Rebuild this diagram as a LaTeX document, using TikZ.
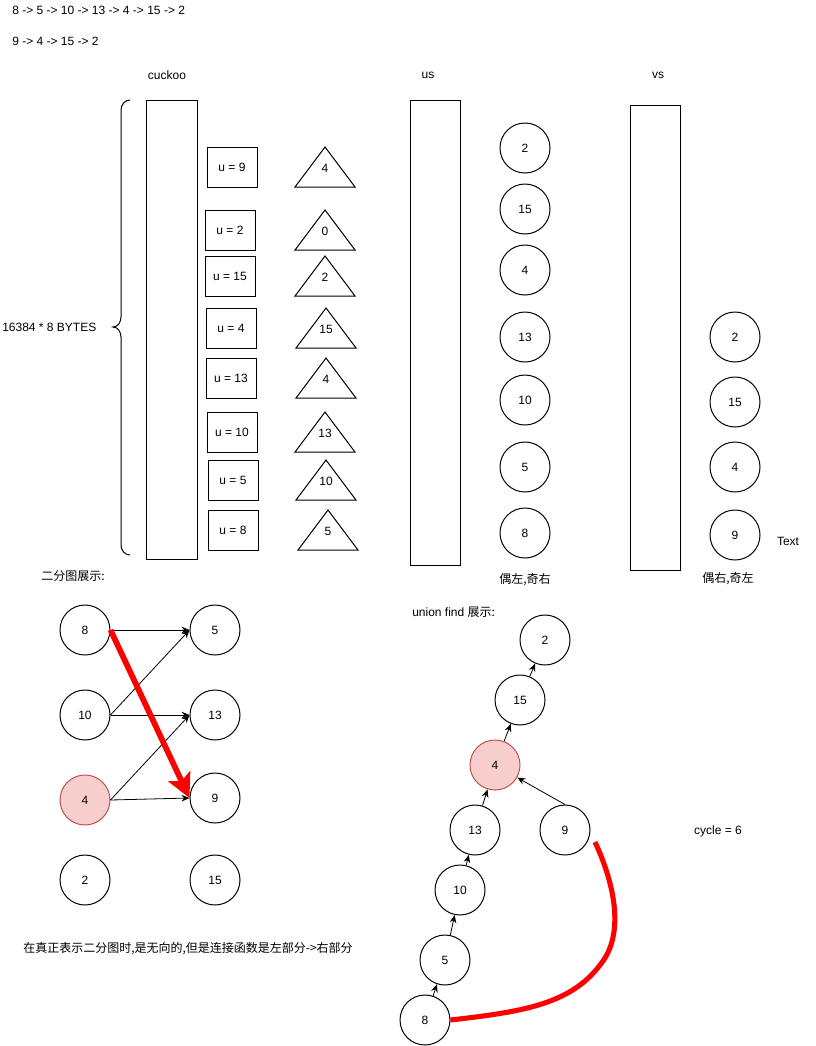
\documentclass[tikz,border=0pt]{standalone}
\usepackage{fontspec}
\setmainfont{Liberation Sans}
\newfontfamily\cjk{Noto Sans CJK SC}
\usetikzlibrary{arrows.meta}
\definecolor{pinkfill}{HTML}{F8CECC}
\definecolor{pinkline}{HTML}{B85450}
\begin{document}
\begin{tikzpicture}[x=0.75pt,y=-0.75pt,
  every node/.style={font=\fontsize{9}{11}\selectfont,inner sep=0pt},
  txt/.style={},
  circ/.style={circle,draw,line width=0.75pt,minimum size=37.5pt},
  hot/.style={circ,fill=pinkfill,draw=pinkline},
  ubox/.style={draw,line width=0.75pt,minimum width=37.5pt,minimum height=30pt},
  tall/.style={draw,line width=0.75pt},
  arr/.style={-{Stealth[length=6pt,width=5pt]},line width=0.6pt},
  redarr/.style={-{Stealth[length=18pt,width=18pt,inset=4pt]},line width=4.3pt,red},
  redline/.style={line width=3.8pt,red}]
\useasboundingbox (0,0) rectangle (816,1046);
% top texts
\node[txt,anchor=west] (seq1) at (12,10) {8 -> 5 -> 10 -> 13 -> 4 -> 15 -> 2};
\node[txt,anchor=west] (seq2) at (12,41) {9 -> 4 -> 15 -> 2};
\node[txt] (tcuckoo) at (167,75) {cuckoo};
\node[txt] (tus) at (428,75) {us};
\node[txt] (tvs) at (658,75) {vs};
% brace
\draw[line width=0.75pt] (130,100) to[out=180,in=90] (121,110) -- (121,317)
  to[out=-90,in=0] (113,327) to[out=0,in=90] (121,337) -- (121,545)
  to[out=-90,in=180] (130,555);
\node[txt,anchor=west] (bytes) at (2,327) {16384 * 8 BYTES};
% cuckoo column
\draw[tall] (146,100) rectangle (197,559);
\node[ubox] (u9) at (232,167) {u = 9};
\node[ubox] (u2) at (230,230) {u = 2};
\node[ubox] (u15) at (230,276) {u = 15};
\node[ubox] (u4) at (231,328) {u = 4};
\node[ubox] (u13) at (231,378) {u = 13};
\node[ubox] (u10) at (232,432) {u = 10};
\node[ubox] (u5) at (233,480) {u = 5};
\node[ubox] (u8) at (233,530) {u = 8};
% triangles
\foreach \x/\y/\t/\n in {295/147/4/ta,295/210/0/tb,295/256/2/tc,296/308/15/td,296/358/4/te,295/412/13/tf,296/460/10/tg,298/510/5/th}{
  \draw[line width=0.75pt] (\x,\y+40) -- (\x+30,\y) -- (\x+60,\y+40) -- cycle;
  \node (\n) at (\x+30,\y+21) {\t};
}
% us column
\draw[tall] (410,100) rectangle (460,565);
\node[circ] (s2) at (525,148) {2};
\node[circ] (s15) at (525,209) {15};
\node[circ] (s4) at (525,270) {4};
\node[circ] (s13) at (525,337) {13};
\node[circ] (s10) at (525,400) {10};
\node[circ] (s5) at (525,467) {5};
\node[circ] (s8) at (525,533) {8};
\node[txt] (usnote) at (525,580) {\cjk 偶左,奇右};
% vs column
\draw[tall] (630,105) rectangle (680,570);
\node[circ] (v2) at (735,337) {2};
\node[circ] (v15) at (735,402) {15};
\node[circ] (v4) at (735,467) {4};
\node[circ] (v9) at (735,535) {9};
\node[txt] (ttext) at (788,541) {Text};
\node[txt] (vsnote) at (728,579) {\cjk 偶右,奇左};
% bipartite
\node[txt,anchor=west] (bititle) at (41,576) {\cjk 二分图展示:};
\node[circ] (b8) at (85,630) {8};
\node[circ] (b10) at (85,715) {10};
\node[hot] (b4) at (85,800) {4};
\node[circ] (b2) at (85,880) {2};
\node[circ] (b5) at (215,630) {5};
\node[circ] (b13) at (215,715) {13};
\node[circ] (b9) at (215,798) {9};
\node[circ] (b15) at (215,880) {15};
\draw[arr] (b8.east) -- (b5.west);
\draw[arr] (b10.east) -- (b5.west);
\draw[arr] (b10.east) -- (b13.west);
\draw[arr] (b4.east) -- (b13.west);
\draw[arr] (b4.east) -- (b9.west);
\draw[redarr] (b8.east) -- (b9.west);
\node[txt] (binote) at (188,949) {\cjk 在真正表示二分图时,是无向的,但是连接函数是左部分->右部分};
% union find
\node[txt,anchor=west] (uftitle) at (412,612) {union find {\cjk 展示:}};
\node[circ] (f2) at (545,640) {2};
\node[circ] (f15) at (520,700) {15};
\node[hot] (f4) at (495,765) {4};
\node[circ] (f13) at (475,830) {13};
\node[circ] (f9) at (565,830) {9};
\node[circ] (f10) at (460,890) {10};
\node[circ] (f5) at (445,960) {5};
\node[circ] (f8) at (425,1020) {8};
\draw[arr] (f15) -- (f2);
\draw[arr] (f4) -- (f15);
\draw[arr] (f13) -- (f4);
\draw[arr] (f9.north) -- (f4);
\draw[arr] (f10) -- (f13);
\draw[arr] (f5) -- (f10);
\draw[arr] (f8) -- (f5);
\coordinate (cstart) at (595,842);
\draw[redline] (cstart) .. controls (615,885) and (625,935) .. (600,965)
  .. controls (570,1005) and (520,1012) .. (f8.east);
\node[txt] (cycle) at (718,831) {cycle = 6};
\end{tikzpicture}
\end{document}
